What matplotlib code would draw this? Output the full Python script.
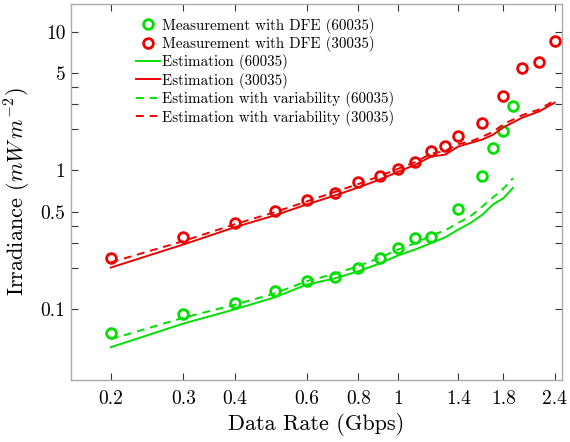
import matplotlib
matplotlib.use("Agg")
import matplotlib.pyplot as plt
from matplotlib.ticker import FixedLocator, FixedFormatter, NullLocator

plt.rcParams["font.family"] = "serif"
plt.rcParams["font.serif"] = ["cmr10"]
plt.rcParams["mathtext.fontset"] = "cm"
plt.rcParams["axes.formatter.use_mathtext"] = True

# Measured irradiance with DFE (mW/m^2)
rate_meas_60035 = [0.2, 0.3, 0.4, 0.5, 0.6, 0.7, 0.8, 0.9, 1.0, 1.1, 1.2, 1.4, 1.6, 1.7, 1.8, 1.9]
irr_meas_60035 = [0.068, 0.092, 0.112, 0.135, 0.159, 0.170, 0.200, 0.233, 0.277, 0.324, 0.332,
                  0.524, 0.92, 1.44, 1.91, 2.89]
rate_meas_30035 = [0.2, 0.3, 0.4, 0.5, 0.6, 0.7, 0.8, 0.9, 1.0, 1.1, 1.2, 1.3, 1.4, 1.6, 1.8,
                   2.0, 2.2, 2.4]
irr_meas_30035 = [0.233, 0.330, 0.416, 0.507, 0.608, 0.694, 0.83, 0.92, 1.03, 1.16, 1.39, 1.49,
                  1.76, 2.18, 3.41, 5.5, 6.0, 8.5]

# Estimated irradiance
rate_est_60035 = [0.2, 0.3, 0.4, 0.5, 0.6, 0.7, 0.8, 0.9, 1.0, 1.1, 1.2, 1.3, 1.4, 1.5, 1.6,
                  1.7, 1.8, 1.9]
irr_est_60035 = [0.0534, 0.079, 0.100, 0.122, 0.151, 0.167, 0.188, 0.214, 0.245, 0.270, 0.300,
                 0.330, 0.376, 0.420, 0.480, 0.570, 0.630, 0.750]
irr_var_60035 = [0.061, 0.087, 0.108, 0.130, 0.160, 0.180, 0.205, 0.235, 0.270, 0.300, 0.340,
                 0.370, 0.420, 0.470, 0.550, 0.640, 0.740, 0.880]

rate_est_30035 = [0.2, 0.3, 0.4, 0.5, 0.6, 0.7, 0.8, 0.9, 1.0, 1.1, 1.2, 1.3, 1.4, 1.5, 1.6,
                  1.7, 1.8, 2.0, 2.2, 2.4]
irr_est_30035 = [0.200, 0.293, 0.390, 0.475, 0.570, 0.660, 0.755, 0.860, 0.980, 1.10, 1.26, 1.30,
                 1.49, 1.58, 1.67, 1.81, 2.04, 2.40, 2.66, 3.08]
irr_var_30035 = [0.218, 0.310, 0.410, 0.500, 0.600, 0.700, 0.800, 0.910, 1.03, 1.15, 1.32, 1.38,
                 1.55, 1.62, 1.75, 1.90, 2.15, 2.50, 2.75, 3.20]

x_ticks = [0.2, 0.3, 0.4, 0.6, 0.8, 1, 1.4, 1.8, 2.4]
x_tick_labels = ["0.2", "0.3", "0.4", "0.6", "0.8", "1", "1.4", "1.8", "2.4"]
y_ticks = [0.1, 0.2, 0.3, 0.4, 0.5, 1, 2, 3, 4, 5, 10]
y_tick_labels = ["0.1", "", "", "", "0.5", "1", "", "", "", "5", "10"]

green = "#00e000"
red = "#ee0000"

fig = plt.figure(figsize=(5.70, 4.42), dpi=100)
ax = fig.add_axes([71 / 570, 1 - 380 / 442, (562 - 71) / 570, (380 - 4) / 442])

ax.plot(rate_meas_60035, irr_meas_60035, "o", ms=7, mfc="none", mec=green, mew=2,
        label="Measurement with DFE (60035)")
ax.plot(rate_meas_30035, irr_meas_30035, "o", ms=7, mfc="none", mec=red, mew=2,
        label="Measurement with DFE (30035)")
ax.plot(rate_est_60035, irr_est_60035, "-", color=green, lw=1.4, label="Estimation (60035)")
ax.plot(rate_est_30035, irr_est_30035, "-", color=red, lw=1.4, label="Estimation (30035)")
ax.plot(rate_est_60035, irr_var_60035, "--", color=green, lw=1.4, dashes=(4, 3),
        label="Estimation with variability (60035)")
ax.plot(rate_est_30035, irr_var_30035, "--", color=red, lw=1.4, dashes=(4, 3),
        label="Estimation with variability (30035)")

ax.set_xscale("log")
ax.set_yscale("log")
ax.set_xlim(0.16, 2.5)
ax.set_ylim(0.031, 15.8)

ax.xaxis.set_major_locator(FixedLocator(x_ticks))
ax.xaxis.set_major_formatter(FixedFormatter(x_tick_labels))
ax.xaxis.set_minor_locator(NullLocator())
ax.yaxis.set_major_locator(FixedLocator(y_ticks))
ax.yaxis.set_major_formatter(FixedFormatter(y_tick_labels))
ax.yaxis.set_minor_locator(NullLocator())

ax.tick_params(which="both", direction="in", top=True, right=True, length=5,
               width=0.8, color="#333333", labelsize=14)
ax.tick_params(axis="x", pad=7)
ax.tick_params(axis="y", pad=4)
for s in ax.spines.values():
    s.set_color("#aaaaaa")
    s.set_linewidth(1.0)

ax.set_xlabel("Data Rate (Gbps)", fontsize=16, labelpad=4)
ax.set_ylabel(r"Irradiance ($mW\,m^{-2}$)", fontsize=16)
ax.yaxis.set_label_coords(-0.078, 0.5)

leg = ax.legend(loc="upper left", bbox_to_anchor=(0.11, 0.992), frameon=False, fontsize=10.8,
                handlelength=1.6, handletextpad=0.15, labelspacing=0.16, borderpad=0.2)

fig.savefig("out.png", dpi=100)
